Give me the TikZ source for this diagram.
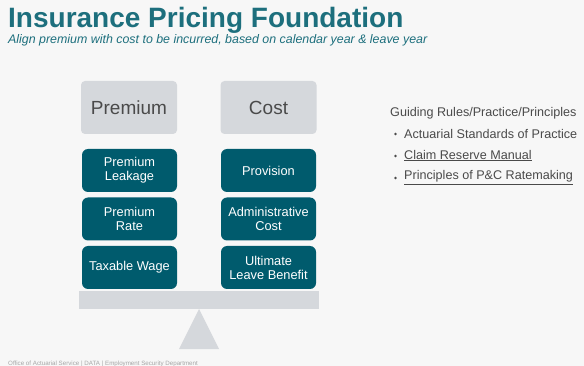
\documentclass[tikz,border=0pt]{standalone}
\usepackage{fontspec}
\setmainfont{Liberation Sans}
\usetikzlibrary{positioning}
\definecolor{bgcol}{HTML}{F7F7F7}
\definecolor{teal}{HTML}{1D6F7D}
\definecolor{boxteal}{HTML}{005B6D}
\definecolor{boxgrey}{HTML}{D5D8DC}
\definecolor{txtgrey}{HTML}{4A4A4A}
\tikzset{
  headbox/.style={fill=boxgrey, rounded corners=4pt, minimum width=96pt, minimum height=53pt,
    text=txtgrey, font=\fontsize{19}{21}\selectfont},
  itembox/.style={fill=boxteal, rounded corners=6pt, minimum width=95pt, minimum height=43pt,
    text=white, align=center, font=\fontsize{12.8}{14}\selectfont},
  guide/.style={anchor=west, text=txtgrey, font=\fontsize{12.6}{14}\selectfont, inner sep=0pt},
  dot/.style={circle, fill=txtgrey, inner sep=0pt, minimum size=2.6pt},
}
\begin{document}
\begin{tikzpicture}[x=1pt,y=-1pt]
  \fill[bgcol] (0,0) rectangle (584,366);
  \useasboundingbox (0,0) rectangle (584,366);

  % title block
  \node[anchor=base west, inner sep=0pt, text=teal, font=\fontsize{28}{30}\selectfont\bfseries] (title) at (8,28) {Insurance Pricing Foundation};
  \node[anchor=base west, inner sep=0pt, text=teal, font=\fontsize{12.4}{14}\selectfont\itshape] (sub) at (8,44) {Align premium with cost to be incurred, based on calendar year \& leave year};

  % headers
  \node[headbox] (prem) at (129,107.5) {Premium};
  \node[headbox] (cost) at (268.5,107.5) {Cost};

  % premium side
  \node[itembox] (p1) at (129.5,170.5) {Premium\\Leakage};
  \node[itembox] (p2) at (129.5,219) {Premium\\Rate};
  \node[itembox] (p3) at (129.5,267.5) {Taxable Wage};

  % cost side
  \node[itembox] (c1) at (268.5,170.5) {Provision};
  \node[itembox] (c2) at (268.5,219) {Administrative\\Cost};
  \node[itembox] (c3) at (268.5,267.5) {Ultimate\\Leave Benefit};

  % balance beam and fulcrum
  \node[fill=boxgrey, minimum width=240pt, minimum height=18pt, inner sep=0pt] (beam) at (199,300) {};
  \coordinate (apex) at (199,309);
  \fill[boxgrey] (apex) -- (219,349) -- (179,349) -- cycle;

  % guiding rules
  \node[guide] (g0) at (390,113) {Guiding Rules/Practice/Principles};
  \node[dot] (b1) at (395.5,134) {};
  \node[guide] (g1) at (404,133.5) {Actuarial Standards of Practice};
  \node[dot] (b2) at (395.5,156) {};
  \node[guide] (g2) at (404,155.5) {\underline{Claim Reserve Manual}};
  \node[dot] (b3) at (395.5,178) {};
  \node[guide] (g3) at (404,177.5) {\underline{Principles of P\&C Ratemaking}};

  % footer
  \node[anchor=base west, inner sep=0pt, text=gray!70, font=\fontsize{6.2}{7}\selectfont] (foot) at (8,365) {Office of Actuarial Service | DATA | Employment Security Department};
\end{tikzpicture}
\end{document}
